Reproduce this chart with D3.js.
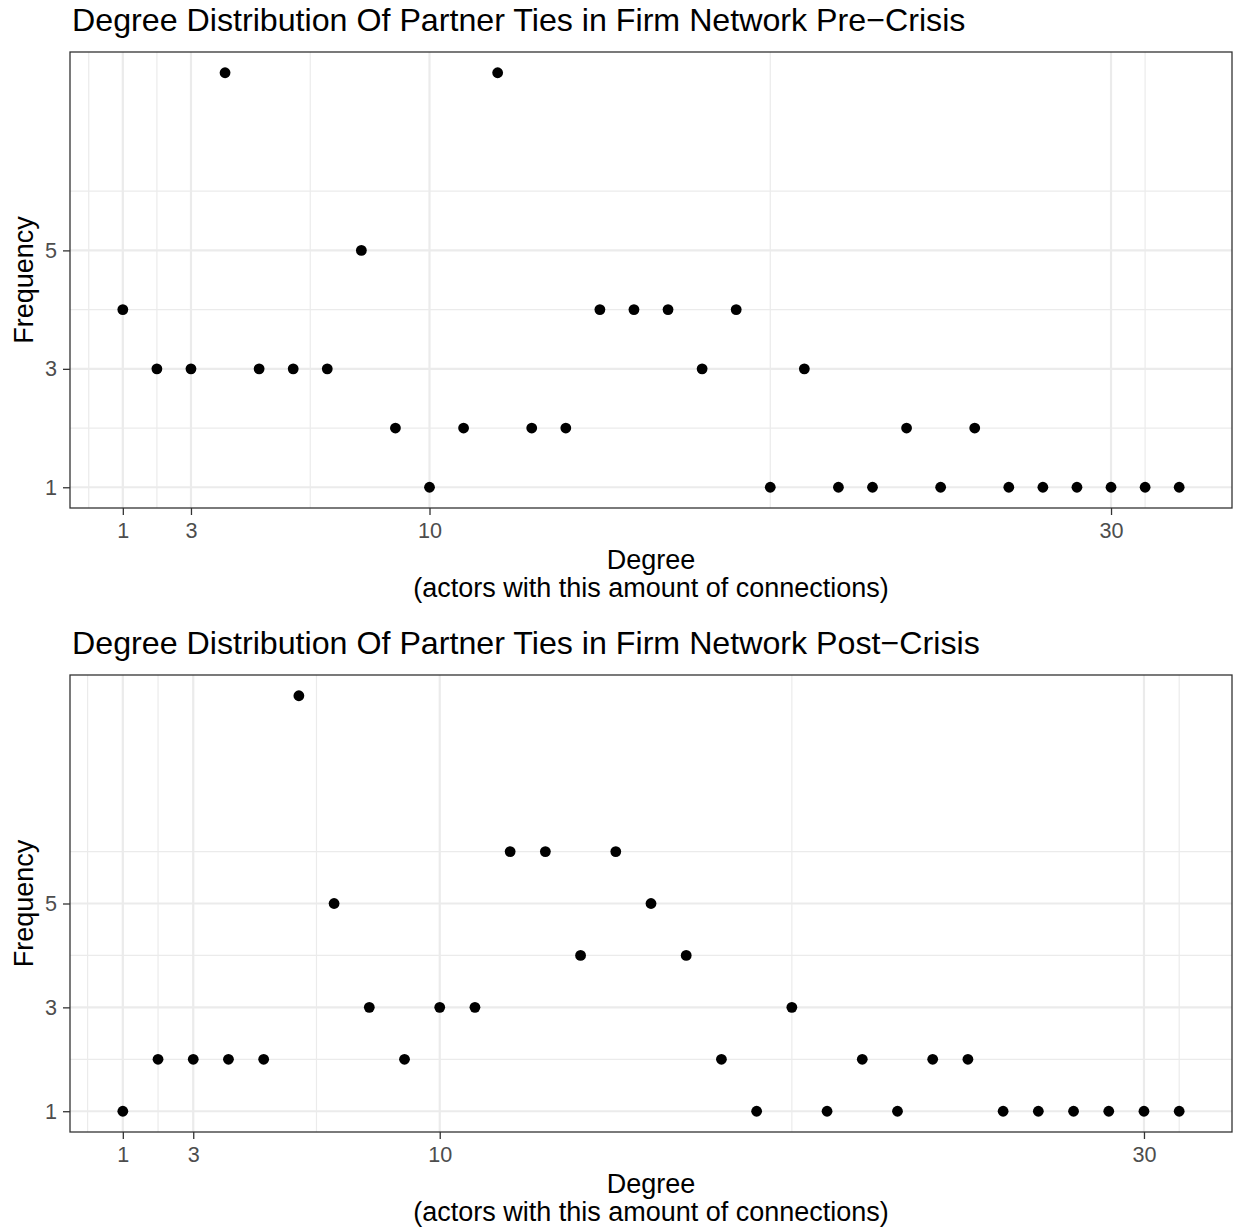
<!DOCTYPE html>
<html>
<head>
<meta charset="utf-8">
<script src="https://cdn.jsdelivr.net/npm/d3@7"></script>
<style>
  body { margin: 0; background: #fff; }
  text { font-family: "Liberation Sans", Arial, sans-serif; }
</style>
</head>
<body>
<svg id="chart" width="1236" height="1230"></svg>
<script>
// pre-crisis: frequency per degree rank 1..32
const preFreq = [4, 3, 3, 8, 3, 3, 3, 5, 2, 1, 2, 8, 2, 2, 4, 4, 4, 3, 4, 1, 3, 1, 1, 2, 1, 2, 1, 1, 1, 1, 1, 1];
// post-crisis: frequency per degree rank 1..31
const postFreq = [1, 2, 2, 2, 2, 9, 5, 3, 2, 3, 3, 6, 6, 4, 6, 5, 4, 2, 1, 3, 1, 2, 1, 2, 2, 1, 1, 1, 1, 1, 1];

const xBreaks = [1, 3, 10, 30];
const yBreaks = [1, 3, 5];
const titles = [
    'Degree Distribution Of Partner Ties in Firm Network Pre\u2212Crisis',
    'Degree Distribution Of Partner Ties in Firm Network Post\u2212Crisis'
];

const svg = d3.select('#chart');

// ggplot-like minor breaks: midpoints of breaks extended by one step each side
function minorBreaks(breaks, lo, hi) {
    let b = breaks.slice();
    const bd = b[1] - b[0];
    if (lo < b[0]) b.unshift(b[0] - bd);
    if (hi > b[b.length - 1]) b.push(b[b.length - 1] + bd);
    const out = [];
    for (let i = 0; i < b.length - 1; i++) out.push((b[i] + b[i + 1]) / 2);
    return out.filter(v => v >= lo && v <= hi && !breaks.includes(v));
}

function drawPanel(values, title, top, bottom) {
    const data = values.map((v, i) => ({ x: i + 1, y: v }));
    const left = 70, right = 1232;

    const xMin = 1, xMax = data.length;
    const xPad = (xMax - xMin) * 0.05;
    const yMin = d3.min(values), yMax = d3.max(values);
    const yPad = (yMax - yMin) * 0.05;

    const x = d3.scaleLinear().domain([xMin - xPad, xMax + xPad]).range([left, right]);
    const y = d3.scaleLinear().domain([yMin - yPad, yMax + yPad]).range([bottom, top]);

    const g = svg.append('g');

    // title
    g.append('text')
        .attr('x', left + 2)
        .attr('y', top - 21)
        .attr('font-size', 32.2)
        .attr('fill', '#000')
        .text(title);

    // minor grid
    const xMinor = minorBreaks(xBreaks, x.domain()[0], x.domain()[1]);
    const yMinor = minorBreaks(yBreaks, y.domain()[0], y.domain()[1]);

    g.selectAll('.xminor')
        .data(xMinor)
        .enter()
        .append('line')
        .attr('x1', d => x(d)).attr('x2', d => x(d))
        .attr('y1', top).attr('y2', bottom)
        .attr('stroke', '#EBEBEB').attr('stroke-width', 1.2);

    g.selectAll('.yminor')
        .data(yMinor)
        .enter()
        .append('line')
        .attr('x1', left).attr('x2', right)
        .attr('y1', d => y(d)).attr('y2', d => y(d))
        .attr('stroke', '#EBEBEB').attr('stroke-width', 1.2);

    // major grid
    g.selectAll('.xmajor')
        .data(xBreaks)
        .enter()
        .append('line')
        .attr('x1', d => x(d)).attr('x2', d => x(d))
        .attr('y1', top).attr('y2', bottom)
        .attr('stroke', '#EBEBEB').attr('stroke-width', 2.2);

    g.selectAll('.ymajor')
        .data(yBreaks)
        .enter()
        .append('line')
        .attr('x1', left).attr('x2', right)
        .attr('y1', d => y(d)).attr('y2', d => y(d))
        .attr('stroke', '#EBEBEB').attr('stroke-width', 2.2);

    // points
    g.selectAll('.pt')
        .data(data)
        .enter()
        .append('circle')
        .attr('cx', d => x(d.x))
        .attr('cy', d => y(d.y))
        .attr('r', 5.4)
        .attr('fill', '#000');

    // panel border
    g.append('rect')
        .attr('x', left).attr('y', top)
        .attr('width', right - left).attr('height', bottom - top)
        .attr('fill', 'none')
        .attr('stroke', '#333333')
        .attr('stroke-width', 1.3);

    // axes
    const xAxis = d3.axisBottom(x).tickValues(xBreaks).tickSize(7).tickPadding(8);
    const yAxis = d3.axisLeft(y).tickValues(yBreaks).tickSize(7).tickPadding(6);

    const xg = g.append('g').attr('transform', `translate(0,${bottom})`).call(xAxis);
    const yg = g.append('g').attr('transform', `translate(${left},0)`).call(yAxis);

    [xg, yg].forEach(a => {
        a.select('.domain').remove();
        a.selectAll('.tick line').attr('stroke', '#333333').attr('stroke-width', 1.3);
        a.selectAll('.tick text')
            .attr('fill', '#4D4D4D')
            .attr('font-size', 21.6)
            .attr('font-family', '"Liberation Sans", Arial, sans-serif');
    });

    // axis titles
    const cx = (left + right) / 2;
    g.append('text')
        .attr('x', cx).attr('y', bottom + 61)
        .attr('text-anchor', 'middle')
        .attr('font-size', 27)
        .text('Degree');
    g.append('text')
        .attr('x', cx).attr('y', bottom + 89)
        .attr('text-anchor', 'middle')
        .attr('font-size', 27)
        .text('(actors with this amount of connections)');

    g.append('text')
        .attr('transform', `translate(33,${(top + bottom) / 2}) rotate(-90)`)
        .attr('text-anchor', 'middle')
        .attr('font-size', 27)
        .text('Frequency');
}

drawPanel(preFreq, titles[0], 52, 508);
drawPanel(postFreq, titles[1], 675, 1132);
</script>
</body>
</html>
